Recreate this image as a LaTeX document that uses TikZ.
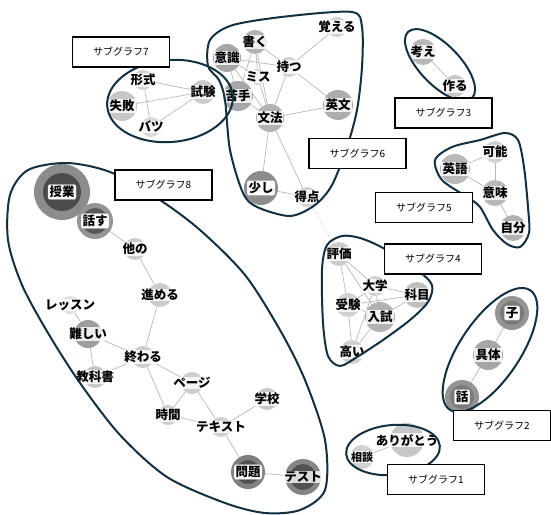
\documentclass[tikz,border=0pt]{standalone}
\usepackage{fontspec}
\setmainfont{Noto Sans CJK JP}
\usetikzlibrary{backgrounds}
\definecolor{sgline}{RGB}{18,48,66}
\tikzset{
  edge/.style={draw=gray!55, line width=0.7pt},
  dotedge/.style={draw=gray!45, line width=0.8pt, dotted},
  sg/.style={draw=sgline, line width=2pt},
  sgbox/.style={draw=black, line width=1.2pt, fill=white, minimum width=97pt, minimum height=30pt, inner sep=0pt, font=\fontsize{10}{12}\selectfont},
  lbl/.style={fill=white, fill opacity=0.8, text opacity=1, inner sep=0.6pt, font=\fontsize{12.5}{14}\selectfont\bfseries},
  lblbox/.style={fill=white, draw=gray!60, rounded corners=2pt, inner sep=1.5pt, font=\fontsize{12.5}{14}\selectfont\bfseries},
  kwc/.style={circle, inner sep=0pt, draw=none}
}
% name, x, y, radius, shade, text
\newcommand\kw[6]{\node[kwc, minimum size=#4*2pt, fill=black!#5] (#1) at (#2,#3) {};
  \node[lbl, minimum width=#4*1.9pt] (#1t) at (#1) {#6};}
% name, x, y, radius, shade, inner radius, inner shade, text  (boxed label)
\newcommand\kwd[8]{\node[kwc, minimum size=#4*2pt, fill=black!#5] (#1) at (#2,#3) {};
  \node[kwc, minimum size=#6*2pt, fill=black!#7] (#1i) at (#1) {};
  \node[lblbox] (#1t) at (#1) {#8};}
% same, band label
\newcommand\kwi[8]{\node[kwc, minimum size=#4*2pt, fill=black!#5] (#1) at (#2,#3) {};
  \node[kwc, minimum size=#6*2pt, fill=black!#7] (#1i) at (#1) {};
  \node[lbl, minimum width=#4*1.9pt] (#1t) at (#1) {#8};}
\newcommand\kwb[6]{\node[kwc, minimum size=#4*2pt, fill=black!#5] (#1) at (#2,#3) {};
  \node[lblbox] (#1t) at (#1) {#6};}
\begin{document}
\begin{tikzpicture}[x=1pt,y=-1pt]
\useasboundingbox (0,0) rectangle (551,514);
\begin{scope}[on background layer]
\fill[white] (0,0) rectangle (551,514);
\end{scope}
% ---------- subgraph 7
\kw{keishiki}{143}{80}{10}{18}{形式}
\kw{shiken}{203}{92}{12}{20}{試験}
\kw{shippai}{122}{106}{15}{22}{失敗}
\kw{batsu}{151}{127}{10}{15}{バツ}
% ---------- subgraph 6
\kw{oboeru}{337}{27}{10}{18}{覚える}
\kw{kaku}{255}{42}{12}{30}{書く}
\kw{ishiki}{227}{58}{14}{35}{意識}
\kw{motsu}{289}{67}{10}{18}{持つ}
\kw{misu}{258}{77}{8}{15}{ミス}
\kw{nigate}{238}{96}{15}{35}{苦手}
\kw{eibun}{338}{105}{15}{32}{英文}
\kw{bunpou}{270}{118}{14}{30}{文法}
\kwb{sukoshi}{261}{188}{17}{45}{少し}
\kw{tokuten}{307}{197}{10}{18}{得点}
% ---------- subgraph 3
\kw{kangae}{423}{52}{13}{28}{考え}
\kw{tsukuru}{455}{86}{11}{22}{作る}
% ---------- subgraph 5
\kw{kanou}{495}{152}{11}{18}{可能}
\kw{eigo}{455}{169}{15}{28}{英語}
\kw{imi}{495}{193}{13}{28}{意味}
\kw{jibun}{513}{228}{13}{30}{自分}
% ---------- subgraph 4
\kw{hyouka}{339}{254}{12}{20}{評価}
\kw{daigaku}{375}{286}{10}{18}{大学}
\kw{kamoku}{417}{295}{13}{25}{科目}
\kw{juken}{348}{305}{12}{18}{受験}
\kw{nyuushi}{380}{317}{15}{30}{入試}
\kw{takai}{352}{352}{12}{18}{高い}
% ---------- subgraph 2
\kwd{ko}{512}{313}{17}{42}{12}{52}{子}
\kw{gutai}{488}{355}{15}{35}{具体}
\kwd{hanashi}{462}{397}{17}{42}{12}{52}{話}
% ---------- subgraph 1
\kw{arigatou}{407}{440}{17}{22}{ありがとう}
\node[kwc, minimum size=24pt, fill=black!18] (soudan) at (362,457) {};
\node[lbl, font=\fontsize{11}{13}\selectfont\bfseries] (soudant) at (soudan) {相談};
% ---------- subgraph 8
\kwd{jugyou}{62}{192}{28}{45}{19}{70}{授業}
\kwd{hanasu}{95}{221}{18}{42}{13}{65}{話す}
\kw{hokano}{135}{249}{11}{20}{他の}
\kw{susumeru}{160}{295}{12}{20}{進める}
\kw{lesson}{70}{305}{9}{12}{レッスン}
\kw{muzukashii}{88}{334}{14}{38}{難しい}
\kw{owaru}{143}{357}{11}{20}{終わる}
\kw{kyoukasho}{95}{377}{11}{22}{教科書}
\kw{peeji}{192}{383}{11}{20}{ページ}
\kw{gakkou}{267}{399}{11}{22}{学校}
\kw{jikan}{168}{415}{10}{20}{時間}
\kw{tekisuto}{221}{427}{10}{18}{テキスト}
\kwd{mondai}{248}{472}{17}{50}{12}{68}{問題}
\kwi{tesuto}{303}{477}{18}{48}{13}{68}{テスト}
% ---------- edges
\begin{scope}[on background layer]
\draw[edge] (keishiki) -- (shiken);
\draw[edge] (keishiki) -- (batsu);
\draw[edge] (shippai) -- (shiken);
\draw[edge] (batsu) -- (shiken);
\draw[edge] (ishiki) -- (motsu);
\draw[edge] (kaku) -- (motsu);
\draw[edge] (motsu) -- (oboeru);
\draw[edge] (kaku) -- (misu);
\draw[edge] (kaku) -- (bunpou);
\draw[edge] (kaku) -- (nigate);
\draw[edge] (ishiki) -- (misu);
\draw[edge] (ishiki) -- (bunpou);
\draw[edge] (ishiki) -- (nigate);
\draw[edge] (misu) -- (bunpou);
\draw[edge] (nigate) -- (bunpou);
\draw[edge] (motsu) -- (bunpou);
\draw[edge] (motsu) -- (eibun);
\draw[edge] (bunpou) -- (eibun);
\draw[edge] (bunpou) -- (sukoshi);
\draw[edge] (bunpou) -- (tokuten);
\draw[edge] (sukoshi) -- (tokuten);
\draw[dotedge] (tokuten) -- (hyouka);
\draw[edge] (kangae) -- (tsukuru);
\draw[edge] (eigo) -- (kanou);
\draw[edge] (kanou) -- (imi);
\draw[edge] (eigo) -- (imi);
\draw[edge] (imi) -- (jibun);
\draw[edge] (hyouka) -- (daigaku);
\draw[edge] (hyouka) -- (juken);
\draw[edge] (hyouka) -- (nyuushi);
\draw[edge] (daigaku) -- (kamoku);
\draw[edge] (daigaku) -- (nyuushi);
\draw[edge] (daigaku) -- (juken);
\draw[edge] (juken) -- (kamoku);
\draw[edge] (nyuushi) -- (kamoku);
\draw[edge] (juken) -- (nyuushi);
\draw[edge] (juken) -- (takai);
\draw[edge] (nyuushi) -- (takai);
\draw[edge] (daigaku) -- (takai);
\draw[edge] (ko) -- (gutai);
\draw[edge] (gutai) -- (hanashi);
\draw[edge] (soudan) -- (arigatou);
\draw[edge] (jugyou) -- (hanasu);
\draw[edge] (hanasu) -- (hokano);
\draw[edge] (hokano) -- (susumeru);
\draw[edge] (susumeru) -- (owaru);
\draw[edge] (lesson) -- (muzukashii);
\draw[edge] (muzukashii) -- (owaru);
\draw[edge] (muzukashii) -- (kyoukasho);
\draw[edge] (kyoukasho) -- (owaru);
\draw[edge] (owaru) -- (peeji);
\draw[edge] (owaru) -- (jikan);
\draw[edge] (jikan) -- (peeji);
\draw[edge] (peeji) -- (tekisuto);
\draw[edge] (jikan) -- (tekisuto);
\draw[edge] (tekisuto) -- (gakkou);
\draw[edge] (tekisuto) -- (mondai);
\draw[edge] (mondai) -- (tesuto);
\end{scope}
% ---------- subgraph boundaries
\draw[sg, rotate around={5:(170,101)}] (170,101) ellipse [x radius=63, y radius=41];
\draw[sg] plot[smooth cycle] coordinates {(233,25) (290,16) (352,12) (362,27) (362,67) (357,110) (347,147) (332,185) (315,205) (290,216) (257,207) (243,193) (230,150) (225,100) (219,80) (208,66) (210,40)};
\draw[sg, rotate around={-46:(440,65)}] (440,65) ellipse [x radius=46, y radius=20];
\draw[sg] plot[smooth cycle] coordinates {(435,160) (452,147) (480,140) (505,133) (518,140) (524,167) (528,207) (529,233) (520,247) (507,244) (493,230) (480,207) (467,197) (442,180)};
\draw[sg] plot[smooth cycle] coordinates {(327,245) (342,236) (360,238) (383,248) (417,270) (432,285) (428,302) (410,320) (383,340) (357,357) (340,366) (328,356) (323,323) (322,270)};
\draw[sg, rotate around={56:(490,350)}] (490,350) ellipse [x radius=72, y radius=30];
\draw[sg, rotate around={5:(393,450)}] (393,450) ellipse [x radius=47, y radius=25];
\draw[sg] plot[smooth cycle] coordinates {(67,163) (110,172) (157,198) (200,230) (245,275) (280,330) (305,380) (325,440) (325,490) (300,510) (265,513) (225,503) (167,477) (120,435) (80,383) (48,333) (22,285) (8,240) (10,195) (28,170)};
% ---------- subgraph labels
\node[sgbox] (b7) at (121,52) {サブグラフ7};
\node[sgbox] (b6) at (357.5,153.5) {サブグラフ6};
\node[sgbox] (b3) at (443.5,113) {サブグラフ3};
\node[sgbox] (b5) at (424,207.5) {サブグラフ5};
\node[sgbox] (b8) at (163.5,185) {サブグラフ8};
\node[sgbox] (b4) at (433,259) {サブグラフ4};
\node[sgbox] (b2) at (502,425.5) {サブグラフ2};
\node[sgbox] (b1) at (436,479.5) {サブグラフ1};
\end{tikzpicture}
\end{document}
